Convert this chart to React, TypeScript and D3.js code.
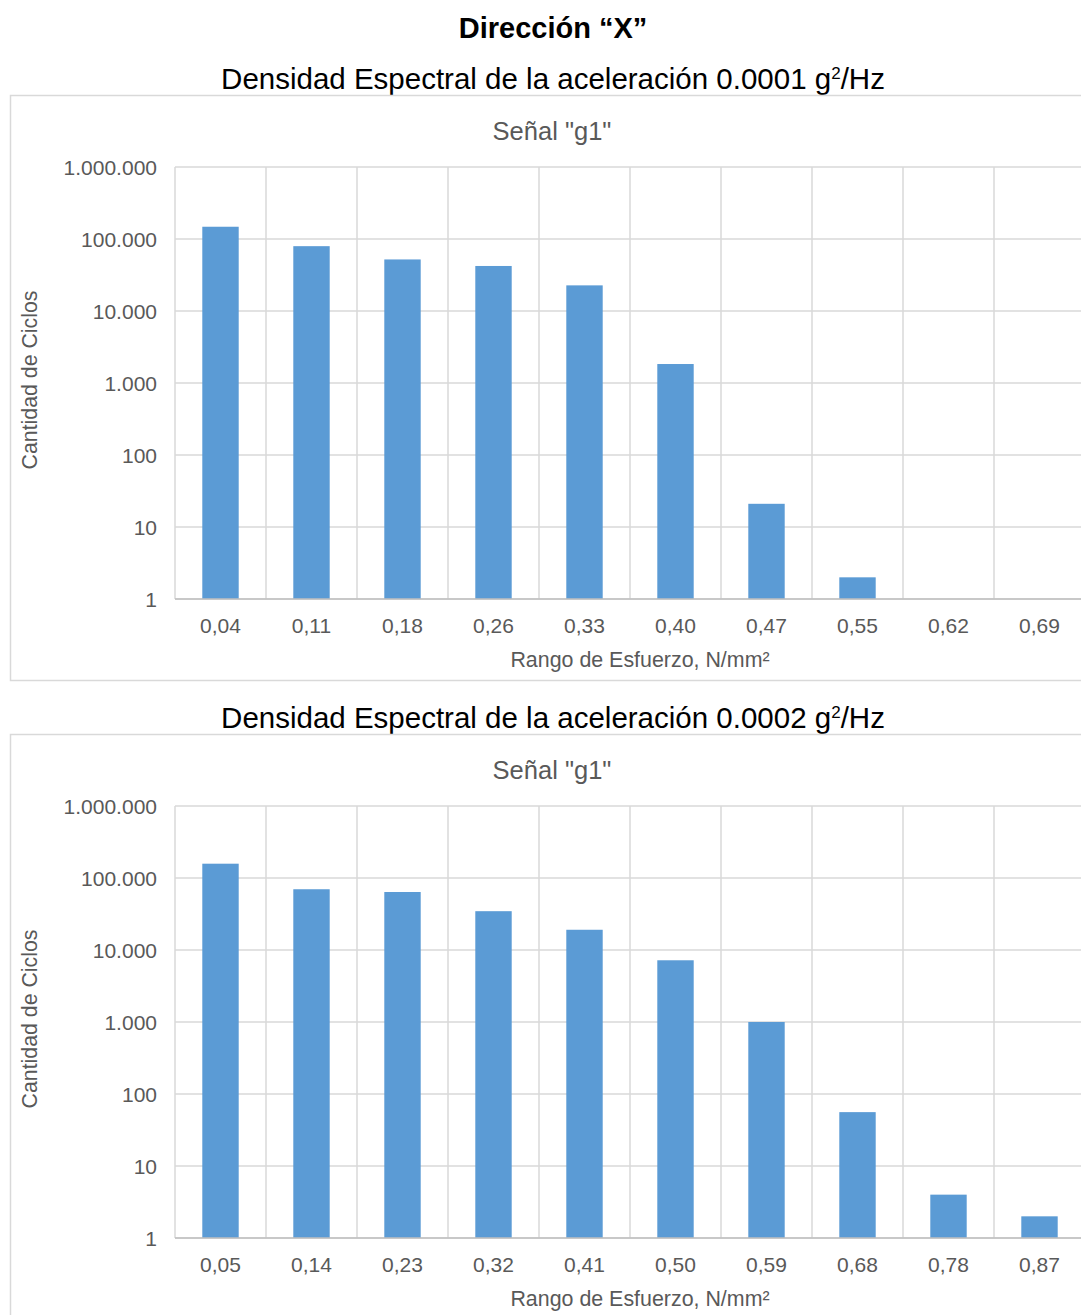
import React from "react";
import * as d3 from "d3";

const mainTitle = "Dirección “X”";
const chartTitle = 'Señal "g1"';
const xAxisTitle = "Rango de Esfuerzo, N/mm²";
const yAxisTitle = "Cantidad de Ciclos";

const categories1 = ["0,04", "0,11", "0,18", "0,26", "0,33", "0,40", "0,47", "0,55", "0,62", "0,69"];
const values1: (number | null)[] = [148000, 79500, 52000, 42200, 22700, 1835, 21, 2, null, null];

const categories2 = ["0,05", "0,14", "0,23", "0,32", "0,41", "0,50", "0,59", "0,68", "0,78", "0,87"];
const values2: (number | null)[] = [158000, 69800, 63900, 34600, 19100, 7200, 1000, 56, 4, 2];

const yTicks = [1, 10, 100, 1000, 10000, 100000, 1000000];

const locale = d3.formatLocale({ decimal: ",", thousands: ".", grouping: [3], currency: ["", ""] });
const fmt = locale.format(",d");

const FONT = "'Liberation Sans', Arial, sans-serif";
const W = 1081;
const H = 1315;

type PanelProps = { offsetY: number; psd: string; cats: string[]; vals: (number | null)[] };

function Panel({ offsetY, psd, cats, vals }: PanelProps) {
  const plotLeft = 175;
  const plotRight = 1085;
  const plotTop = 167;
  const plotBottom = 599;
  const x = d3.scaleBand<string>().domain(cats).range([plotLeft, plotRight]).paddingInner(0.6).paddingOuter(0.3);
  const y = d3.scaleLog().domain([1, 1e6]).range([plotBottom, plotTop]);
  const step = x.step();
  const bounds = cats.map((c) => (x(c) as number) - step * 0.3);
  bounds.push(plotRight);
  return (
    <g transform={`translate(0,${offsetY})`}>
      <text x={553} y={89} textAnchor="middle" fontFamily={FONT} fontSize={29.5} fill="#000">
        Densidad Espectral de la aceleración {psd} g
        <tspan dy={-10} fontSize={17}>2</tspan>
        <tspan dy={10}>/Hz</tspan>
      </text>
      <rect x={10.5} y={95.5} width={1100} height={585} fill="#fff" stroke="#d9d9d9" strokeWidth={1.5} />
      <text x={552} y={140} textAnchor="middle" fontFamily={FONT} fontSize={25.5} fill="#595959">
        {chartTitle}
      </text>
      {yTicks.map((t) => (
        <line key={"h" + t} x1={plotLeft} x2={plotRight} y1={y(t)} y2={y(t)} stroke="#d9d9d9" strokeWidth={1.5} />
      ))}
      {bounds.map((b, i) => (
        <line key={"v" + i} x1={b} x2={b} y1={plotTop} y2={plotBottom} stroke="#d9d9d9" strokeWidth={1.5} />
      ))}
      {cats.map((c, i) => {
        const v = vals[i];
        if (v == null || v <= 1) return null;
        return (
          <rect key={"b" + c} x={x(c)} y={y(v)} width={x.bandwidth()} height={plotBottom - y(v)} fill="#5b9bd5" />
        );
      })}
      <line x1={plotLeft} x2={plotRight} y1={plotBottom} y2={plotBottom} stroke="#bfbfbf" strokeWidth={1.5} />
      {yTicks.map((t) => (
        <text key={"yl" + t} x={157} y={y(t) + 7.5} textAnchor="end" fontFamily={FONT} fontSize={21} fill="#595959">
          {fmt(t)}
        </text>
      ))}
      {cats.map((c) => (
        <text key={"xl" + c} x={(x(c) as number) + x.bandwidth() / 2} y={633} textAnchor="middle" fontFamily={FONT} fontSize={21} fill="#595959">
          {c}
        </text>
      ))}
      <text x={640} y={667} textAnchor="middle" fontFamily={FONT} fontSize={21.4} fill="#595959">
        {xAxisTitle}
      </text>
      <text transform={`translate(37,${(plotTop + plotBottom) / 2 - 3}) rotate(-90)`} textAnchor="middle" fontFamily={FONT} fontSize={21.3} fill="#595959">
        {yAxisTitle}
      </text>
    </g>
  );
}

export default function App() {
  return (
    <svg width={W} height={H} style={{ position: "absolute", left: 0, top: 0, background: "#fff" }}>
      <rect x={0} y={0} width={W} height={H} fill="#fff" />
      <text x={553} y={38} textAnchor="middle" fontFamily={FONT} fontSize={29} fontWeight="bold" fill="#000">
        {mainTitle}
      </text>
      <Panel offsetY={0} psd="0.0001" cats={categories1} vals={values1} />
      <Panel offsetY={639} psd="0.0002" cats={categories2} vals={values2} />
    </svg>
  );
}
